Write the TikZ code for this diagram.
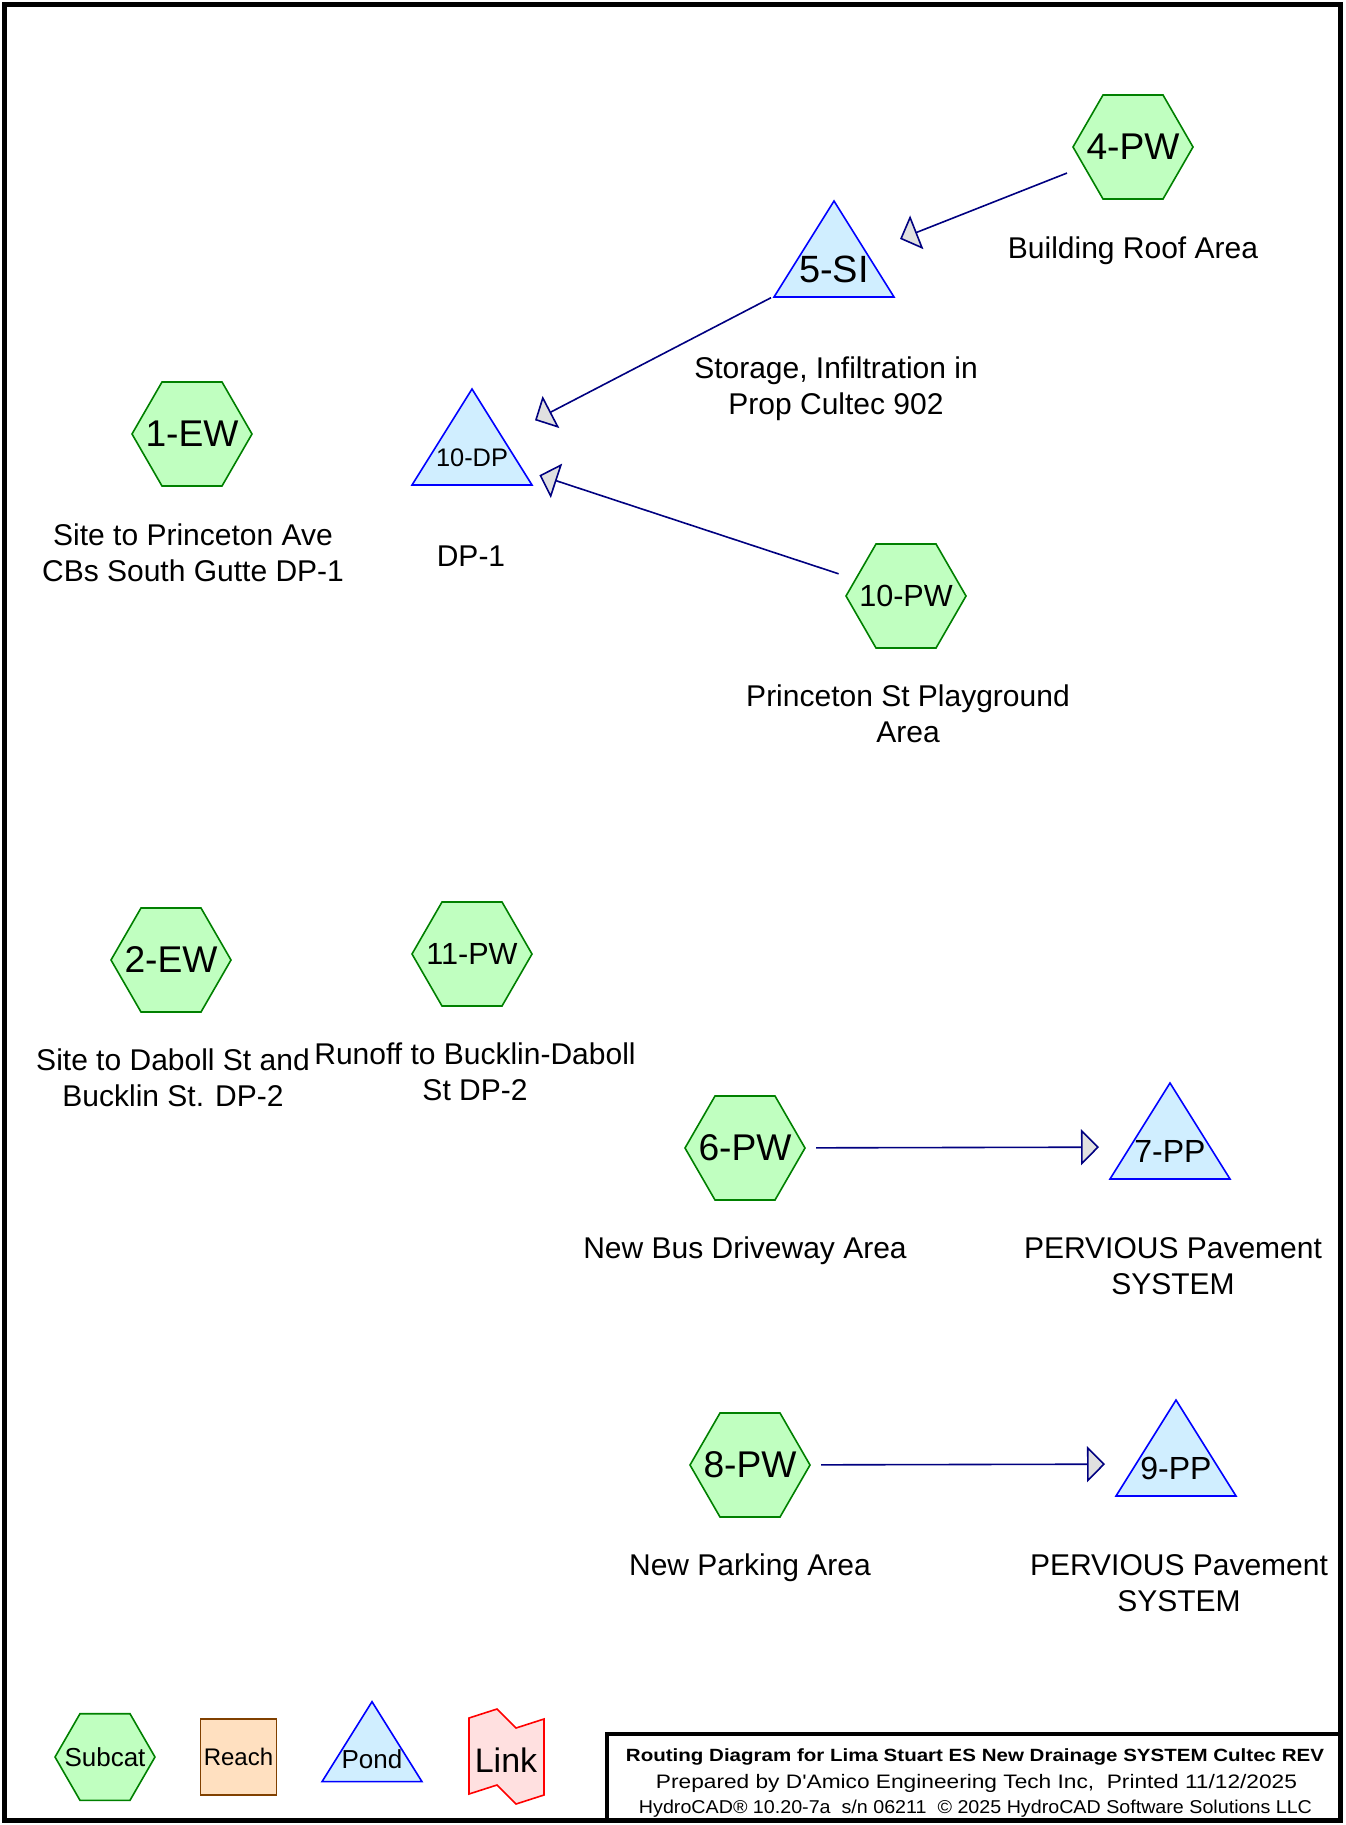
\documentclass[tikz,border=0pt]{standalone}
\usepackage{fontspec}
\setmainfont{Liberation Sans}
\usepackage{graphicx}
\usetikzlibrary{arrows.meta}
\definecolor{subfill}{RGB}{192,255,192}
\definecolor{subline}{RGB}{0,128,0}
\definecolor{pondfill}{RGB}{208,238,255}
\definecolor{pondline}{RGB}{0,0,255}
\definecolor{reachfill}{RGB}{255,224,192}
\definecolor{reachline}{RGB}{128,64,0}
\definecolor{linkfill}{RGB}{255,224,224}
\definecolor{linkline}{RGB}{255,0,0}
\definecolor{flowline}{RGB}{0,0,128}
\definecolor{tipfill}{RGB}{224,224,224}

\begin{document}
\begin{tikzpicture}[x=0.5pt, y=-0.5pt,
  subcat/.style={circle, minimum size=64pt, inner sep=0pt,
    font=\fontsize{18.6}{20}\selectfont,
    path picture={\draw[subline, fill=subfill, line width=0.8pt]
      ([shift={(-60*#1,0)}]path picture bounding box.center)
      -- ++(30*#1,-52*#1) -- ++(60*#1,0) -- ++(30*#1,52*#1)
      -- ++(-30*#1,52*#1) -- ++(-60*#1,0) -- cycle;}},
  subcat/.default=1,
  pond/.style={circle, minimum size=76pt, inner sep=0pt,
    text height=17.6pt, text depth=0pt,
    font=\fontsize{19}{20}\selectfont,
    path picture={\draw[pondline, fill=pondfill, line width=0.8pt]
      ([shift={(0,-64*#1)}]path picture bounding box.center)
      -- ++(60*#1,96*#1) -- ++(-120*#1,0) -- cycle;}},
  pond/.default=1,
  reach/.style={rectangle, minimum width=38pt, minimum height=38pt, inner sep=0pt,
    draw=reachline, fill=reachfill, line width=0.8pt,
    font=\fontsize{12}{14}\selectfont},
  lab/.style={align=center, inner sep=0pt, font=\fontsize{15}{18}\selectfont},
  flow/.style={flowline, line width=0.8pt, shorten <=35.5pt, shorten >=35.5pt,
    -{Triangle[length=9pt, width=18pt, fill=tipfill]}}]

  \useasboundingbox (0,0) rectangle (1345,1825);
  \draw[line width=2.5pt] (4.5,4.5) rectangle (1340.5,1820.5);

  \node[subcat] (pw4) at (1133,147) {4-PW};
  \node[pond] (si5) at (834,265) {5-SI};
  \node[pond, text height=13.1pt, font=\fontsize{12.7}{14}\selectfont] (dp10) at (472,453) {10-DP};
  \node[subcat] (ew1) at (192,434) {1-EW};
  \node[subcat, font=\fontsize{15.3}{17}\selectfont] (pw10) at (906,596) {10-PW};
  \node[subcat] (ew2) at (171,960) {2-EW};
  \node[subcat, font=\fontsize{15.3}{17}\selectfont] (pw11) at (472,954) {11-PW};
  \node[subcat] (pw6) at (745,1148) {6-PW};
  \node[pond, text height=15.5pt, font=\fontsize{16}{17}\selectfont] (pp7) at (1170,1147) {7-PP};
  \node[subcat] (pw8) at (750,1465) {8-PW};
  \node[pond, text height=15.5pt, font=\fontsize{16}{17}\selectfont] (pp9) at (1176,1464) {9-PP};

  \node[lab] (lab4) at (1133,251) {Building Roof Area};
  \node[lab] (lab5) at (836,389) {Storage, Infiltration in\\Prop Cultec 902};
  \node[lab] (lab1) at (193,553) {Site to Princeton Ave\\CBs South Gutte DP-1};
  \node[lab] (labdp) at (471,556) {DP-1};
  \node[lab] (lab10) at (908,714) {Princeton St Playground\\Area};
  \node[lab] (lab2) at (173,1078) {Site to Daboll St and\\Bucklin St. DP-2};
  \node[lab] (lab11) at (475,1072) {Runoff to Bucklin-Daboll\\St DP-2};
  \node[lab] (lab6) at (745,1251) {New Bus Driveway Area};
  \node[lab] (lab7) at (1173,1266) {PERVIOUS Pavement\\SYSTEM};
  \node[lab] (lab8) at (750,1568) {New Parking Area};
  \node[lab] (lab9) at (1179,1583) {PERVIOUS Pavement\\SYSTEM};

  \draw[flow] (pw4.center) -- (si5.center);
  \draw[flow] (si5.center) -- (dp10.center);
  \draw[flow] (pw10.center) -- (dp10.center);
  \draw[flow] (pw6.center) -- (pp7.center);
  \draw[flow] (pw8.center) -- (pp9.center);

  % legend
  \node[subcat=0.833, font=\fontsize{13}{14}\selectfont] (subkey) at (105,1757) {Subcat};
  \node[reach] (reachkey) at (238.5,1757) {Reach};
  \node[pond=0.833, text height=13.3pt, font=\fontsize{13}{14}\selectfont] (pondkey) at (372,1755) {Pond};
  \draw[linkline, fill=linkfill, line width=0.8pt] (469,1718) -- (497,1709) -- (516,1728)
    -- (544,1719) -- (544,1795) -- (516,1804) -- (497,1785) -- (469,1794) -- cycle;
  \node[font=\fontsize{17}{18}\selectfont] (linkkey) at (506,1760) {Link};

  % title block
  \draw[line width=2pt] (607,1820.5) |- (1340.5,1733.5);
  \node[anchor=base, inner sep=0pt] (title) at (975,1761)
    {\resizebox{349pt}{\height}{\fontsize{8.85}{10}\selectfont\bfseries Routing Diagram for Lima Stuart ES New Drainage SYSTEM Cultec REV}};
  \node[anchor=base, inner sep=0pt] (prep) at (976.5,1788)
    {\resizebox{320.5pt}{\height}{\fontsize{9.75}{11}\selectfont Prepared by D\textquotesingle Amico Engineering Tech Inc,\ \ Printed 11/12/2025}};
  \node[anchor=base, inner sep=0pt] (ver) at (975.5,1813)
    {\resizebox{336.5pt}{\height}{\fontsize{9.3}{11}\selectfont HydroCAD® 10.20-7a\ \ s/n 06211\ \ © 2025 HydroCAD Software Solutions LLC}};
\end{tikzpicture}
\end{document}
